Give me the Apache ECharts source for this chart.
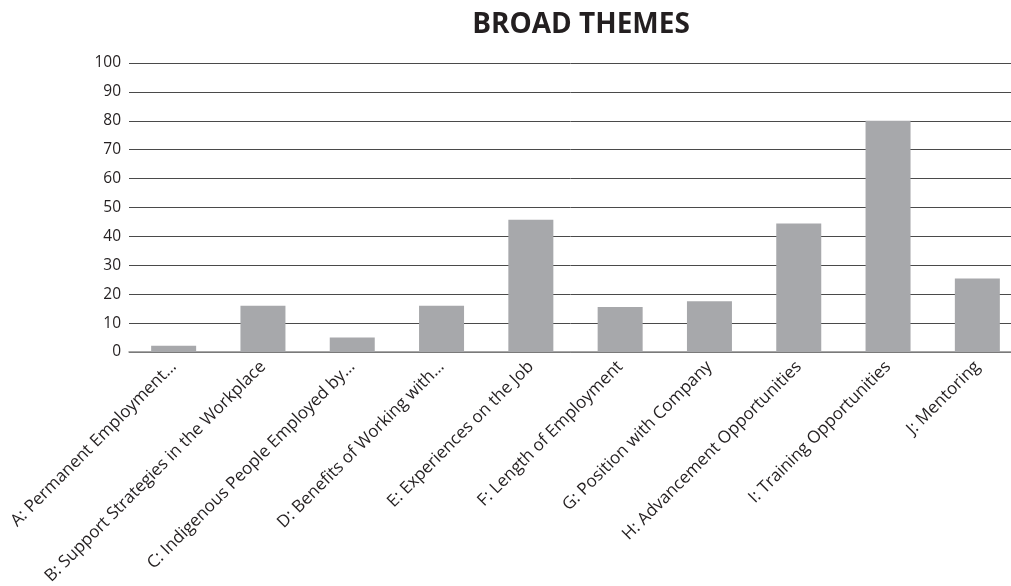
<!DOCTYPE html>
<html>
<head>
<meta charset="utf-8">
<script src="https://cdn.jsdelivr.net/npm/echarts@6/dist/echarts.min.js"></script>
<style>
html,body{margin:0;padding:0;background:#fff;}
#chart{width:1011px;height:586px;}
</style>
</head>
<body>
<div id="chart"></div>
<script>
var temas = ['A: Permanent Employment…', 'B: Support Strategies in the Workplace', 'C: Indigenous People Employed by…',
	'D: Benefits of Working with…', 'E: Experiences on the Job', 'F: Length of Employment',
	'G: Position with Company', 'H: Advancement Opportunities', 'I: Training Opportunities', 'J: Mentoring'];
var valores = [2.2, 16, 5, 16, 45.8, 15.6, 17.6, 44.5, 80, 25.4];
var marcasY = [0, 100, 10]; // min, max, interval

var dom = document.getElementById("chart");
var myChart = echarts.init(dom);
var option = {
	animation: false,
	title: {
		text: 'BROAD THEMES',
		left: 576,
		textAlign: 'center',
		top: 6,
		textStyle: {fontFamily: 'Open Sans', fontWeight: 'bold', fontSize: 28, color: '#231f20'}
	},
	grid: {left: 129, top: 63, width: 893, height: 289, outerBoundsMode: 'none', containLabel: false},
	xAxis: {
		type: 'category',
		data: temas,
		axisTick: {show: false},
		axisLine: {lineStyle: {color: '#8a8a8a', width: 1.5}},
		axisLabel: {
			rotate: 45,
			interval: 0,
			margin: 12,
			fontFamily: 'Open Sans',
			fontSize: 17,
			color: '#231f20'
		}
	},
	yAxis: {
		type: 'value',
		min: marcasY[0],
		max: marcasY[1],
		interval: marcasY[2],
		axisLine: {show: false},
		axisTick: {show: false},
		axisLabel: {fontFamily: 'Open Sans', fontSize: 15.5, color: '#231f20', margin: 8},
		splitLine: {lineStyle: {color: '#4a4a4a', width: 1}}
	},
	series: [{
		name: 'Broad themes',
		type: 'bar',
		data: valores,
		barWidth: 45,
		itemStyle: {color: '#a7a8ab'}
	}]
};
myChart.setOption(option, true);
</script>
</body>
</html>
